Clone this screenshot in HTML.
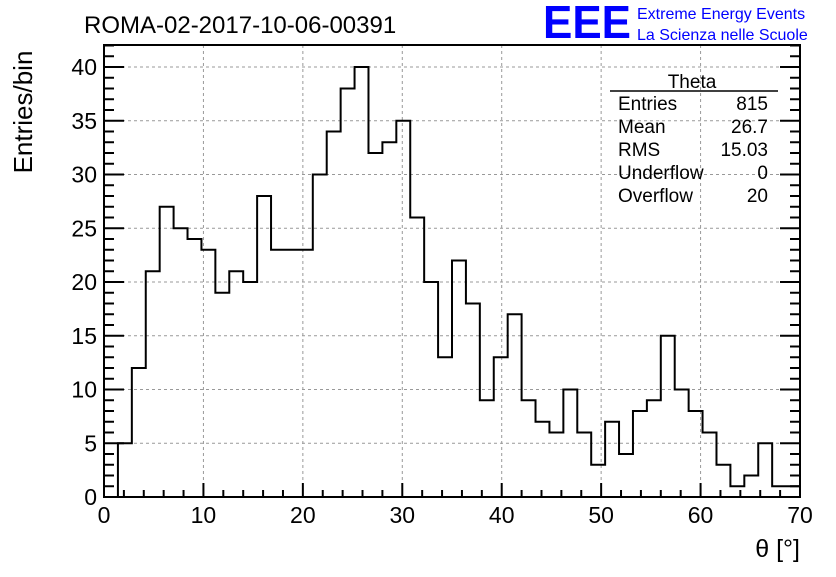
<!DOCTYPE html>
<html><head><meta charset="utf-8"><style>
body{margin:0;background:#fff;width:836px;height:572px;overflow:hidden;font-family:"Liberation Sans",sans-serif}
svg text{font-family:"Liberation Sans",sans-serif}
</style></head><body>
<svg id="chart" width="836" height="572">
<text x="84" y="33" font-size="24">ROMA-02-2017-10-06-00391</text>
<text x="543" y="38" font-size="46" font-weight="bold" fill="#0000ff" textLength="88" lengthAdjust="spacingAndGlyphs">EEE</text>
<text x="637" y="19" font-size="16" fill="#0000ff">Extreme Energy Events</text>
<text x="637" y="40" font-size="16" fill="#0000ff">La Scienza nelle Scuole</text>
<g id="grid"></g><g id="ticks"></g><g id="labels"></g>
<path id="hist" fill="none" stroke="#000" stroke-width="2"></path>
<rect x="104" y="45" width="696" height="452" fill="none" stroke="#000" stroke-width="2"></rect>
<text transform="translate(32,112) rotate(-90)" text-anchor="middle" font-size="26">Entries/bin</text>
<text x="800" y="557" text-anchor="end" font-size="25">θ [°]</text>
<g font-size="19">
<text x="692" y="88" text-anchor="middle">Theta</text>
<line x1="610" y1="91" x2="778" y2="91" stroke="#000" stroke-width="1.5"/>
<text x="618" y="110">Entries</text><text x="768" y="110" text-anchor="end">815</text>
<text x="618" y="133">Mean</text><text x="768" y="133" text-anchor="end">26.7</text>
<text x="618" y="156">RMS</text><text x="768" y="156" text-anchor="end">15.03</text>
<text x="618" y="179">Underflow</text><text x="768" y="179" text-anchor="end">0</text>
<text x="618" y="202">Overflow</text><text x="768" y="202" text-anchor="end">20</text>
</g>
</svg>
<script>
const counts=[0,5,12,21,27,25,24,23,19,21,20,28,23,23,23,30,34,38,40,32,33,35,26,20,13,22,18,9,13,17,9,7,6,10,6,3,7,4,8,9,15,10,8,6,3,1,2,5,1,1];
const xTicks=[0,10,20,30,40,50,60,70];
const yTicks=[0,5,10,15,20,25,30,35,40];
const binW=1.4;
const X=v=>104+v*(696/70), Y=v=>497-v*10.75;
const ns="http://www.w3.org/2000/svg";
function mk(p,t,a){const e=document.createElementNS(ns,t);for(const k in a)e.setAttribute(k,a[k]);document.getElementById(p).appendChild(e);return e;}
xTicks.forEach(v=>{
 if(v>0&&v<70){const g=mk('grid','line',{x1:X(v),x2:X(v),y1:45,y2:497,stroke:'#999','stroke-dasharray':'3,3'});
 
 }
 const t=mk('labels','text',{x:X(v),y:523,'text-anchor':'middle','font-size':23});t.textContent=v;
 
 
});
for(let v=0;v<=70;v+=2){const L=v%10===0?14:7;mk('ticks','line',{x1:X(v),x2:X(v),y1:497,y2:497-L,stroke:'#000','stroke-width':2});}
yTicks.forEach(v=>{
 if(v>0){const g=mk('grid','line',{x1:104,x2:800,y1:Y(v),y2:Y(v),stroke:'#999','stroke-dasharray':'3,3'});
 
 }
 const t=mk('labels','text',{x:97,y:Y(v)+8,'text-anchor':'end','font-size':23});t.textContent=v;
 
 
});
for(let v=0;v<=42;v++){const L=v%5===0?20:10;mk('ticks','line',{x1:104,x2:104+L,y1:Y(v),y2:Y(v),stroke:'#000','stroke-width':2});mk('ticks','line',{x1:800,x2:800-L,y1:Y(v),y2:Y(v),stroke:'#000','stroke-width':2});}
let d='M'+X(0)+','+Y(counts[0]);
counts.forEach((c,i)=>{const x0=X(i*binW),x1=X(Math.min((i+1)*binW,70));d+=' L'+x0+','+Y(c)+' L'+x1+','+Y(c);});
document.getElementById('hist').setAttribute('d',d);
</script>
</body></html>
